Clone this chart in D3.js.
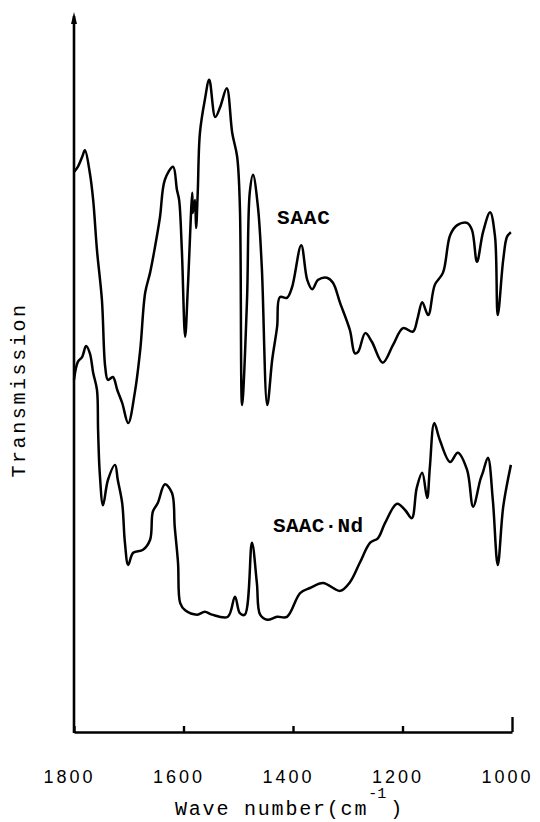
<!DOCTYPE html>
<html>
<head>
<meta charset="utf-8">
<script src="https://cdn.jsdelivr.net/npm/d3@7"></script>
<style>
  body { margin: 0; background: #fff; }
  svg { display: block; }
</style>
</head>
<body>
<div id="chart"></div>
<script>
// chart size (in pixels)
var width = 540
var height = 822

// x ticks (wave number, cm-1)
var tickValues = [1800, 1600, 1400, 1200, 1000]

// SAAC spectrum: wave number / transmission (arbitrary units)
var saacWave = [1800, 1793, 1785, 1780, 1771, 1765, 1758, 1749, 1743, 1738, 1729, 1721, 1712, 1701,
    1689, 1679, 1670, 1661, 1652, 1643, 1634, 1619, 1612, 1608, 1603, 1597, 1592, 1584, 1583, 1579,
    1577, 1574, 1570, 1561, 1553, 1542, 1533, 1521, 1511, 1502, 1497, 1493, 1484, 1479, 1473, 1464,
    1457, 1447, 1438, 1429, 1424, 1411, 1402, 1385, 1374, 1365, 1354, 1338, 1327, 1314, 1296, 1287,
    1281, 1268, 1256, 1236, 1217, 1199, 1181, 1172, 1164, 1153, 1141, 1126, 1113, 1100, 1082, 1073,
    1064, 1053, 1040, 1031, 1026, 1016, 1009, 1002]
var saacTrans = [77.8, 78.5, 79.9, 80.8, 77.6, 73.9, 66.9, 60.0, 50.7, 48.9, 49.3, 47.5, 45.7, 42.9,
    47.1, 53.1, 61.0, 63.8, 67.4, 71.5, 76.7, 78.5, 75.3, 73.9, 66.9, 54.9, 61.8, 74.9, 72.1, 73.9,
    70.0, 74.9, 83.2, 87.8, 90.6, 85.4, 86.8, 89.4, 83.2, 79.9, 72.9, 45.4, 60.0, 74.9, 77.4, 72.9,
    64.6, 45.4, 51.7, 56.3, 60.4, 60.3, 61.7, 67.6, 62.8, 61.5, 62.8, 63.1, 62.4, 59.6, 55.8, 52.6,
    52.8, 55.4, 54.2, 51.3, 53.8, 56.1, 55.6, 57.6, 59.7, 57.9, 62.1, 63.8, 69.0, 70.4, 70.7, 69.7,
    65.3, 69.4, 72.2, 68.8, 57.9, 65.6, 68.8, 69.4]

// SAAC·Nd spectrum
var ndWave = [1800, 1793, 1785, 1778, 1771, 1765, 1758, 1756, 1753, 1747, 1738, 1725, 1720, 1712,
    1707, 1701, 1692, 1674, 1661, 1656, 1647, 1634, 1621, 1616, 1610, 1606, 1597, 1575, 1561, 1548,
    1519, 1506, 1497, 1488, 1475, 1466, 1460, 1447, 1429, 1411, 1387, 1369, 1345, 1314, 1296, 1278,
    1259, 1245, 1232, 1210, 1195, 1183, 1174, 1164, 1155, 1150, 1142, 1132, 1113, 1099, 1082, 1071,
    1058, 1053, 1044, 1035, 1026, 1016, 1002]
var ndTrans = [48.9, 51.4, 52.1, 53.6, 52.6, 49.9, 47.5, 41.9, 36.0, 31.5, 35.0, 37.1, 35.0, 31.8,
    26.3, 23.2, 24.9, 25.3, 26.7, 30.6, 31.8, 34.4, 33.2, 28.5, 23.5, 17.9, 16.9, 16.3, 16.7, 16.3,
    16.0, 18.8, 16.5, 16.3, 26.3, 20.7, 16.3, 15.6, 16.0, 16.0, 19.3, 20.0, 20.7, 19.6, 20.8, 23.5,
    26.3, 26.9, 29.0, 31.7, 30.8, 29.7, 33.9, 36.0, 32.5, 36.8, 42.9, 40.6, 37.5, 38.8, 36.4, 31.3,
    35.0, 36.1, 38.1, 32.2, 23.2, 31.3, 37.1]

var labels = ["SAAC", "SAAC\u00b7Nd"]

// plot box ("top" is taken by window.top, so prefix everything)
var plotLeft = 74, plotRight = 512, plotTop = 12, plotBottom = 732

var x = d3.scaleLinear().domain([1800, 1000]).range([plotLeft, plotRight])
var y = d3.scaleLinear().domain([0, 100]).range([plotBottom, plotTop])

var svg = d3.select("#chart").append("svg")
    .attr("width", width)
    .attr("height", height)

var mono = "'Liberation Mono', 'DejaVu Sans Mono', monospace"

// bottom axis, ticks point up
var xAxis = svg.append("g")
    .attr("transform", "translate(0," + plotBottom + ")")
    .call(d3.axisBottom(x).tickValues(tickValues).tickFormat(d3.format("d"))
        .tickSize(-6).tickSizeOuter(0))

xAxis.select(".domain").attr("stroke-width", 2.4)
xAxis.selectAll(".tick line").attr("stroke-width", 2.4)
    .attr("y2", function (d) { return d === 1000 ? -15 : -6 })
xAxis.selectAll(".tick text")
    .attr("y", 51)
    .attr("dy", null)
    .attr("dx", -5)
    .attr("fill", "#000")
    .style("font-family", "'Liberation Sans', Arial, sans-serif")
    .style("font-size", "18px")
    .style("letter-spacing", "3px")

// left axis with arrow head
svg.append("line")
    .attr("x1", x(1800)).attr("x2", x(1800))
    .attr("y1", plotBottom + 1).attr("y2", plotTop + 4)
    .attr("stroke", "#000")
    .attr("stroke-width", 2.6)
svg.append("path")
    .attr("d", "M" + (plotLeft - 3) + "," + (plotTop + 12) + "L" + plotLeft + "," + plotTop +
        "L" + (plotLeft + 3) + "," + (plotTop + 12) + "Z")
    .attr("fill", "#000")

// spectra (light smoothing, like a pen trace)
var line = d3.line()
    .x(function (d) { return x(d[0]) })
    .y(function (d) { return y(d[1]) })
    .curve(d3.curveCatmullRom.alpha(0.5))

var series = [d3.zip(saacWave, saacTrans), d3.zip(ndWave, ndTrans)]

svg.selectAll(".spectrum")
    .data(series)
    .enter()
    .append("path")
    .attr("class", "spectrum")
    .attr("d", line)
    .attr("fill", "none")
    .attr("stroke", "#000")
    .attr("stroke-width", 2.5)
    .attr("stroke-linejoin", "round")

// curve labels
svg.append("text")
    .attr("x", 277).attr("y", 224)
    .style("font-family", mono).style("font-size", "21px").style("font-weight", "bold")
    .style("letter-spacing", "0.8px")
    .text(labels[0])
svg.append("text")
    .attr("x", 273).attr("y", 532)
    .style("font-family", mono).style("font-size", "21px").style("font-weight", "bold")
    .style("letter-spacing", "0.3px")
    .text(labels[1])

// axis titles
var xTitle = svg.append("text")
    .attr("x", 175).attr("y", 815)
    .style("font-family", mono).style("font-size", "20px")
    .style("letter-spacing", "1.8px")
xTitle.append("tspan").text("Wave number(cm")
xTitle.append("tspan").attr("dy", -17).style("font-size", "15px").style("letter-spacing", "0px").text("-1")
xTitle.append("tspan").attr("dy", 17).attr("dx", 4).text(")")

svg.append("text")
    .attr("transform", "translate(25,390)rotate(-90)")
    .attr("text-anchor", "middle")
    .style("font-family", mono).style("font-size", "20px")
    .style("letter-spacing", "2.6px")
    .text("Transmission")
</script>
</body>
</html>
